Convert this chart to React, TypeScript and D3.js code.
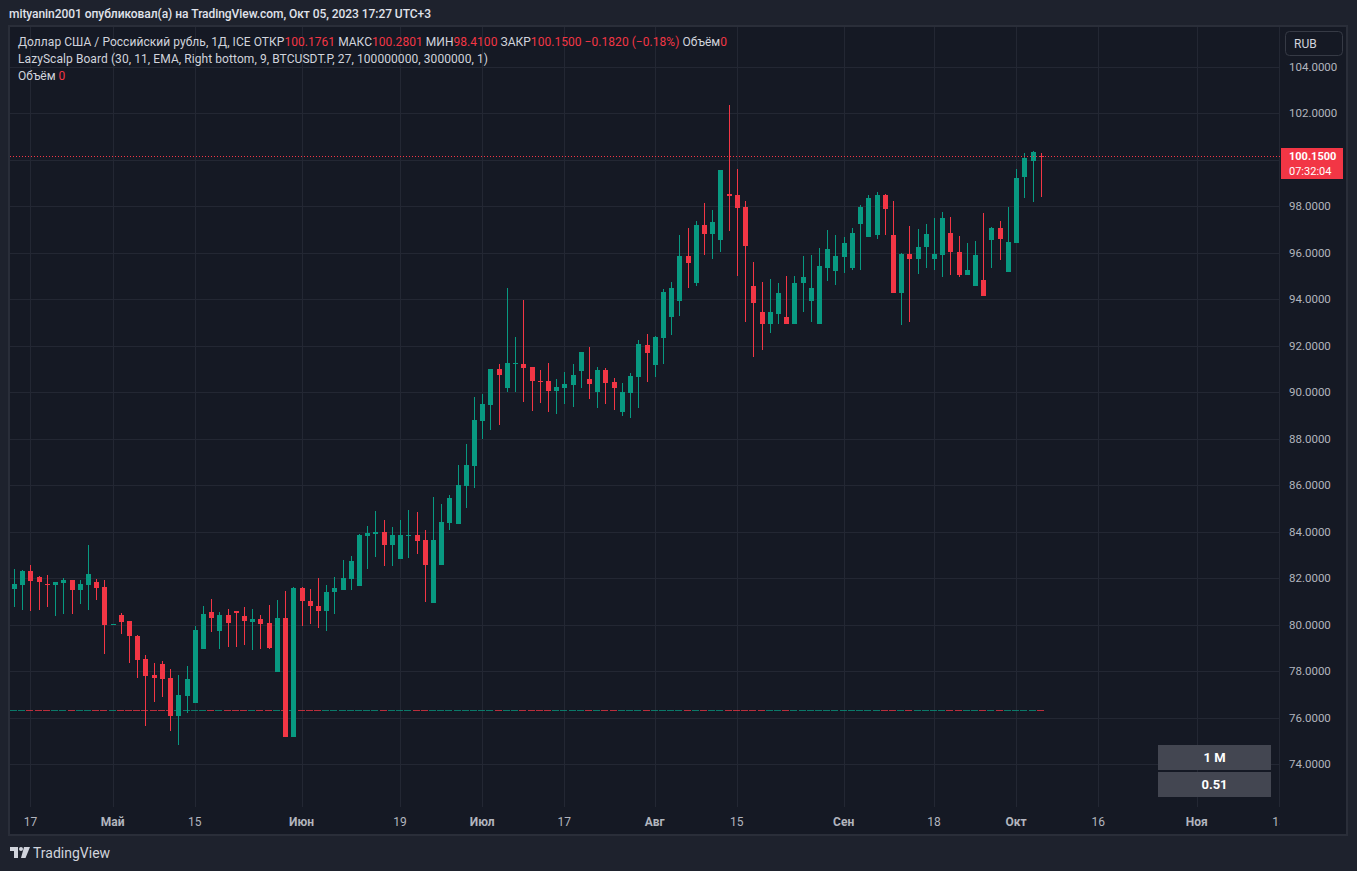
import React from 'react';
import * as d3 from 'd3';

// daily candles USD/RUB, Apr 13 – Oct 5 2023 (weekdays)
const opens = [
  81.52, 81.71, 82.30, 82.04, 81.73, 81.71, 81.78, 81.91, 81.48, 81.69,
  81.82, 81.61, 80.04, 80.40, 80.14, 79.50, 78.50, 77.81, 78.30, 77.70,
  76.06, 76.92, 76.62, 78.95, 80.53, 79.71, 80.40, 80.57, 80.36, 80.10,
  80.23, 80.06, 77.94, 80.27, 75.16, 81.56, 81.00, 80.80, 80.59, 81.39,
  81.50, 81.96, 81.67, 83.81, 83.90, 84.00, 83.42, 82.82, 83.84, 83.85,
  83.64, 80.93, 82.56, 84.37, 84.33, 85.96, 86.82, 88.76, 89.45, 91.00,
  90.18, 91.24, 91.21, 91.09, 90.48, 90.48, 90.05, 90.18, 90.31, 90.91,
  90.57, 90.01, 90.96, 90.44, 89.15, 89.97, 90.66, 92.03, 91.17, 92.33,
  93.24, 93.93, 95.86, 94.70, 97.20, 96.81, 96.55, 98.53, 98.49, 97.97,
  94.57, 93.45, 92.94, 93.37, 93.24, 92.94, 94.70, 93.93, 92.94, 95.35,
  95.22, 95.82, 95.35, 97.24, 96.68, 96.77, 98.49, 96.77, 94.27, 95.95,
  95.73, 96.25, 95.73, 95.91, 96.85, 96.04, 95.05, 94.57, 94.83, 96.55,
  97.07, 95.18, 96.42, 99.26, 99.95, 100.1761,
];
const highs = [
  82.38, 82.34, 82.56, 82.08, 82.13, 81.82, 82.00, 81.91, 81.91, 83.42,
  81.95, 81.91, 80.04, 80.49, 80.14, 79.54, 78.68, 78.33, 78.43, 78.09,
  77.83, 78.21, 79.94, 80.80, 81.09, 80.53, 80.66, 80.57, 80.75, 80.66,
  80.40, 80.83, 81.05, 81.44, 81.61, 81.61, 81.52, 82.00, 81.69, 82.04,
  82.78, 82.95, 83.90, 84.24, 84.89, 84.50, 84.20, 84.50, 84.93, 84.84,
  84.07, 85.49, 85.19, 85.58, 86.87, 87.77, 89.79, 89.92, 91.00, 91.21,
  94.49, 92.38, 93.97, 91.09, 90.96, 91.26, 90.57, 90.87, 91.21, 91.73,
  91.95, 91.09, 91.04, 90.61, 90.40, 90.83, 92.25, 92.51, 92.42, 94.44,
  94.74, 96.77, 97.07, 97.37, 98.15, 97.84, 99.57, 102.36, 99.61, 98.23,
  95.61, 94.74, 94.87, 94.70, 95.00, 95.00, 95.86, 95.91, 96.21, 96.98,
  96.77, 96.68, 97.07, 98.06, 98.49, 98.62, 98.53, 98.23, 96.00, 97.16,
  97.03, 97.24, 97.50, 97.76, 97.54, 96.72, 96.42, 96.51, 97.72, 97.11,
  97.37, 97.97, 99.61, 100.30, 100.38, 100.2801,
];
const lows = [
  80.75, 80.62, 80.57, 80.62, 80.75, 80.37, 80.44, 80.44, 80.88, 80.62,
  81.05, 78.72, 80.04, 79.58, 78.35, 77.69, 75.62, 76.65, 76.88, 75.42,
  74.81, 76.19, 76.62, 78.95, 79.67, 78.94, 79.02, 79.02, 79.11, 78.89,
  78.94, 78.94, 77.94, 75.16, 75.16, 79.94, 80.01, 79.84, 79.71, 80.44,
  81.50, 81.50, 81.67, 82.39, 82.91, 82.52, 82.52, 82.82, 82.86, 83.04,
  80.97, 80.93, 82.56, 84.07, 84.33, 85.02, 85.88, 87.99, 88.37, 88.59,
  90.01, 90.01, 89.58, 89.19, 89.54, 89.15, 89.06, 89.49, 89.36, 90.18,
  89.71, 89.32, 89.49, 89.23, 88.98, 88.89, 89.32, 90.44, 90.66, 91.21,
  92.46, 93.28, 94.49, 94.57, 95.91, 95.73, 96.04, 96.94, 95.00, 93.02,
  91.52, 91.82, 92.55, 92.94, 92.94, 92.94, 93.45, 93.02, 92.94, 94.79,
  94.62, 95.13, 95.26, 95.26, 96.68, 96.60, 96.77, 94.27, 92.89, 93.02,
  95.09, 95.35, 95.26, 94.96, 95.05, 94.96, 95.05, 94.57, 94.14, 95.35,
  95.69, 95.18, 96.42, 98.36, 98.19, 98.41,
];
const closes = [
  81.74, 82.30, 81.88, 81.82, 81.71, 81.82, 81.91, 81.48, 81.74, 82.17,
  81.56, 79.97, 80.04, 80.10, 79.50, 78.46, 77.77, 77.69, 77.67, 76.06,
  76.97, 77.65, 79.76, 80.45, 80.27, 80.40, 80.06, 80.49, 80.14, 80.23,
  80.01, 78.98, 80.27, 75.16, 81.56, 81.02, 80.80, 80.59, 81.39, 81.56,
  82.00, 82.73, 83.85, 83.94, 84.00, 83.42, 83.85, 83.85, 83.86, 83.60,
  82.56, 83.64, 84.41, 85.45, 86.01, 86.87, 88.80, 89.49, 91.00, 90.74,
  91.26, 91.26, 91.04, 90.48, 90.45, 90.05, 90.22, 90.35, 90.74, 91.73,
  90.35, 90.96, 90.40, 90.18, 90.00, 90.70, 92.08, 91.69, 92.38, 94.31,
  94.49, 95.86, 95.56, 97.20, 96.81, 97.33, 99.57, 98.45, 97.93, 96.29,
  93.84, 92.94, 93.45, 94.27, 92.94, 94.70, 94.96, 94.49, 95.43, 96.17,
  95.86, 96.42, 96.85, 97.97, 98.36, 98.49, 97.89, 94.27, 95.95, 95.73,
  96.25, 96.81, 95.95, 97.50, 96.04, 95.05, 95.26, 95.91, 94.14, 97.07,
  96.60, 96.47, 99.22, 100.08, 100.332, 100.15,
];

// x-axis ticks (index into the weekday sequence, which runs on into the future)
const tickIdx = [2, 12, 22, 35, 47, 57, 67, 78, 88, 101, 112, 122, 132, 144, 154];
const tickLabels = ['17', 'Май', '15', 'Июн', '19', 'Июл', '17', 'Авг', '15', 'Сен', '18', 'Окт', '16', 'Ноя', '15'];
const monthTicks = ['Май', 'Июн', 'Июл', 'Авг', 'Сен', 'Окт', 'Ноя'];
const priceTicks = [74, 76, 78, 80, 82, 84, 86, 88, 90, 92, 94, 96, 98, 100, 102, 104];
const boardLevel = 76.31;

const W = 1357;
const H = 871;
const GREEN = '#089981';
const RED = '#f23645';
const TXT = '#d1d4dc';
const AXIS_TXT = '#b2b5be';
const GRID = '#232733';
const FONT = 'Roboto, "Noto Sans", sans-serif';

const App: React.FC = () => {
  const x = d3.scaleLinear().domain([0, 154]).range([14, 1279]);
  const y = d3.scaleLinear().domain([74, 104]).range([764, 67]);

  const plot = { left: 10, right: 1280, top: 27, bottom: 807 };
  const n = closes.length;
  const last = closes[n - 1];
  const chg = last - closes[n - 2];
  const chgPct = (chg / closes[n - 2]) * 100;
  const signed = (v: number, d: number) => (v < 0 ? '\u2212' : '+') + Math.abs(v).toFixed(d);
  const bodyW = 5;

  // the last-price badge hides any axis label it covers
  const badgeTop = Math.round(y(last)) - 8;
  const badgeH = 31;
  const axisTicks = priceTicks.filter((p) => {
    const py = y(p);
    return py < badgeTop - 7 || py > badgeTop + badgeH + 7;
  });

  return (
    <svg width={W} height={H} style={{ position: 'absolute', left: 0, top: 0, fontFamily: FONT }}>
      <defs>
        <clipPath id="plotClip">
          <rect x={plot.left} y={plot.top} width={plot.right - plot.left} height={835 - plot.top} />
        </clipPath>
      </defs>

      <rect x={0} y={0} width={W} height={H} fill="#1e222d" />
      <rect x={9} y={26} width={1338} height={809} fill="#151924" stroke="#2a2e39" strokeWidth={2} />

      {/* header */}
      <text x={9} y={18} fontSize={12} fontWeight={500} fill="#e0e3eb" textLength={422} lengthAdjust="spacing">
        mityanin2001 опубликовал(а) на TradingView.com, Окт 05, 2023 17:27 UTC+3
      </text>

      {/* grid */}
      <g shapeRendering="crispEdges">
        {priceTicks.map((p) => (
          <line key={'h' + p} x1={plot.left} x2={plot.right} y1={Math.round(y(p)) + 0.5} y2={Math.round(y(p)) + 0.5} stroke={GRID} />
        ))}
        {tickIdx.map((t) => (
          <line key={'v' + t} x1={Math.round(x(t)) + 0.5} x2={Math.round(x(t)) + 0.5} y1={plot.top} y2={plot.bottom} stroke={GRID} />
        ))}
      </g>

      {/* board level line, one dash per candle */}
      <g shapeRendering="crispEdges" opacity={0.75}>
        {closes.map((c, i) => {
          const cx = Math.round(x(i));
          return (
            <line key={'d' + i} x1={cx - 4} x2={cx + 3} y1={Math.round(y(boardLevel)) + 0.5} y2={Math.round(y(boardLevel)) + 0.5}
              stroke={c >= opens[i] ? GREEN : RED} />
          );
        })}
      </g>

      {/* candles */}
      <g shapeRendering="crispEdges">
        {closes.map((c, i) => {
          const o = opens[i];
          const col = c >= o ? GREEN : RED;
          const cx = Math.round(x(i));
          const top = y(Math.max(o, c));
          const bot = y(Math.min(o, c));
          return (
            <g key={'c' + i}>
              <line x1={cx + 0.5} x2={cx + 0.5} y1={y(highs[i])} y2={y(lows[i])} stroke={col} />
              <rect x={cx - 2} y={top} width={bodyW} height={Math.max(1, bot - top)} fill={col} />
            </g>
          );
        })}
      </g>

      {/* last price line */}
      <line x1={plot.left} x2={plot.right} y1={Math.round(y(last)) + 0.5} y2={Math.round(y(last)) + 0.5}
        stroke={RED} strokeDasharray="1,2" shapeRendering="crispEdges" />

      {/* legend */}
      <g fontSize={12} fill={TXT} style={{ whiteSpace: 'pre' }}>
        <text x={18} y={46} textLength={709} lengthAdjust="spacing">
          {'Доллар США / Российский рубль, 1Д, ICE  ОТКР'}
          <tspan fill={RED}>{opens[n - 1].toFixed(4)}</tspan>
          {'  МАКС'}
          <tspan fill={RED}>{highs[n - 1].toFixed(4)}</tspan>
          {'  МИН'}
          <tspan fill={RED}>{lows[n - 1].toFixed(4)}</tspan>
          {'  ЗАКР'}
          <tspan fill={RED}>{last.toFixed(4)}</tspan>
          {'  '}
          <tspan fill={RED}>{`${signed(chg, 4)} (${signed(chgPct, 2)}%)`}</tspan>
          {'  Объём'}
          <tspan fill={RED}>0</tspan>
        </text>
        <text x={18} y={63} textLength={470} lengthAdjust="spacing">
          LazyScalp Board (30, 11, EMA, Right bottom, 9, BTCUSDT.P, 27, 100000000, 3000000, 1)
        </text>
        <text x={18} y={80}>
          {'Объём  '}
          <tspan fill={RED}>0</tspan>
        </text>
      </g>

      {/* price axis */}
      <g fontSize={11.5} fill={AXIS_TXT}>
        {axisTicks.map((p) => (
          <text key={'p' + p} x={1289} y={y(p)} dy="0.35em">{p.toFixed(4)}</text>
        ))}
      </g>

      {/* currency button */}
      <rect x={1285.5} y={31.5} width={57} height={24} rx={4} fill="#151924" stroke="#363a45" />
      <text x={1294} y={44} dy="0.35em" fontSize={12} fill={TXT}>RUB</text>

      {/* last price badge */}
      <rect x={1281} y={badgeTop} width={62} height={badgeH} fill={RED} />
      <text x={1289} y={badgeTop + 8.5} dy="0.33em" fontSize={11} fontWeight={700} fill="#ffffff">{last.toFixed(4)}</text>
      <text x={1289} y={badgeTop + 23} dy="0.33em" fontSize={11} fill="#ffffff">07:32:04</text>

      {/* time axis */}
      <g clipPath="url(#plotClip)" fontSize={12} fill={AXIS_TXT} textAnchor="middle">
        {tickIdx.map((t, k) => (
          <text key={'t' + k} x={x(t)} y={822} dy="0.35em"
            fontWeight={monthTicks.includes(tickLabels[k]) ? 700 : 400}>
            {tickLabels[k]}
          </text>
        ))}
      </g>

      {/* LazyScalp board table */}
      <rect x={1158} y={745} width={113} height={25} fill="#434651" />
      <rect x={1158} y={772} width={113} height={25} fill="#434651" />
      <text x={1214.5} y={757.5} dy="0.35em" fontSize={13} fontWeight={700} fill="#ffffff" textAnchor="middle">1 M</text>
      <text x={1214.5} y={784.5} dy="0.35em" fontSize={13} fontWeight={700} fill="#ffffff" textAnchor="middle">0.51</text>

      {/* TradingView mark */}
      <g fill={TXT}>
        <path d="M10,847 H18 V858 H14 V851 H10 Z" />
        <circle cx={21} cy={849} r={2} />
        <path d="M24,847 H30 L25.5,858 H21 Z" />
        <text x={33} y={853} dy="0.35em" fontSize={14}>TradingView</text>
      </g>
    </svg>
  );
};

export default App;
